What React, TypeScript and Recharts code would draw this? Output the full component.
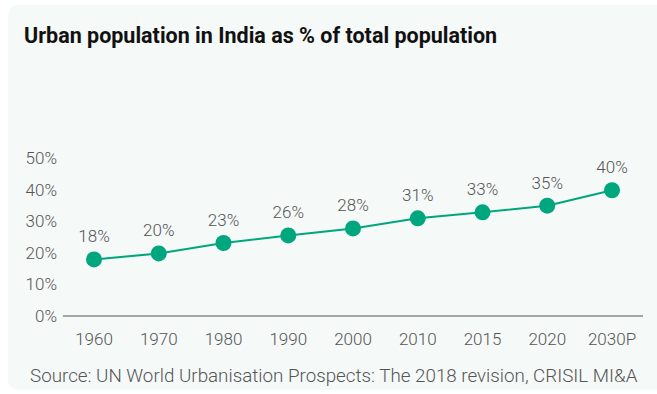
import React from "react";
import { LineChart, Line, XAxis, YAxis, LabelList } from "recharts";

const years = ["1960", "1970", "1980", "1990", "2000", "2010", "2015", "2020", "2030P"];
const urbanShare = [17.9, 19.8, 23.1, 25.5, 27.7, 30.9, 32.8, 34.9, 39.8];
const yTicks = [0, 10, 20, 30, 40, 50];

const data = years.map((y, i) => ({ year: y, share: urbanShare[i] }));

const FONT = "Roboto, 'Noto Sans', sans-serif";
const GREEN = "#00a67e";
const GRAY = "#555555";

export default function App() {
  return (
    <div style={{ position: "absolute", left: 0, top: 0, width: 657, height: 394, background: "#ffffff", fontFamily: FONT }}>
      <div style={{ position: "absolute", left: 8, top: 5, width: 660, height: 385, background: "#f5f9f8", borderRadius: 10 }} />
      <div style={{ position: "absolute", left: 24, top: 23, fontSize: 21.5, fontWeight: 700, color: "#111", whiteSpace: "nowrap" }}>
        Urban population in India as % of total population
      </div>
      <div style={{ position: "absolute", left: 0, top: 0 }}>
        <LineChart width={657} height={394} data={data} margin={{ top: 158, right: 14, left: 0, bottom: 48 }}>
          <XAxis
            dataKey="year"
            axisLine={{ stroke: "#555", strokeWidth: 1 }}
            tickLine={false}
            tick={{ fill: GRAY, fontSize: 17, fontFamily: FONT, fontWeight: 300 }}
            tickMargin={11}
            height={30}
            interval={0}
            padding={{ left: 31, right: 31 }}
          />
          <YAxis
            domain={[0, 50]}
            ticks={yTicks}
            axisLine={false}
            tickLine={false}
            width={63}
            tick={{ fill: GRAY, fontSize: 17, fontFamily: FONT, fontWeight: 300 }}
            tickFormatter={(v: number) => `${v}%`}
            tickMargin={0}
          />
          <Line
            dataKey="share"
            stroke={GREEN}
            strokeWidth={2}
            dot={{ r: 8, fill: GREEN, stroke: GREEN, strokeWidth: 0 }}
            isAnimationActive={false}
          >
            <LabelList
              dataKey="share"
              position="top"
              offset={17}
              formatter={(v: number) => `${Math.round(v)}%`}
              style={{ fill: GRAY, fontSize: 17, fontFamily: FONT, fontWeight: 300 }}
            />
          </Line>
        </LineChart>
      </div>
      <div style={{ position: "absolute", left: 30, top: 365, fontSize: 18.8, fontWeight: 300, color: GRAY, whiteSpace: "nowrap" }}>
        Source: UN World Urbanisation Prospects: The 2018 revision, CRISIL MI&amp;A
      </div>
    </div>
  );
}
